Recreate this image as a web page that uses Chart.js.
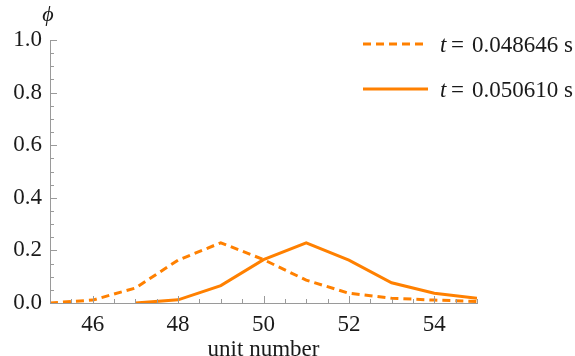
<!DOCTYPE html>
<html>
<head>
<meta charset="utf-8">
<script src="https://cdn.jsdelivr.net/npm/chart.js@4"></script>
<style>
  html, body { margin: 0; padding: 0; background: #fff; }
  #wrap { width: 575px; height: 356px; }
</style>
</head>
<body>
<div id="wrap"><canvas id="chart" width="575" height="356"></canvas></div>
<script>
// data
const units = [45, 46, 47, 48, 49, 50, 51, 52, 53, 54, 55];
const phiEarly = [0.0, 0.011, 0.057, 0.163, 0.229, 0.165, 0.087, 0.037, 0.018, 0.011, 0.006];
const phiLate = [null, null, 0.0, 0.012, 0.066, 0.165, 0.229, 0.163, 0.077, 0.037, 0.018];
const seriesLabels = ["0.048646 s", "0.050610 s"];
const xTicks = [46, 48, 50, 52, 54];
const yTicks = [0, 0.2, 0.4, 0.6, 0.8, 1.0];

const orange = "#ff8000";
const axisGray = "#9a9a9a";
const textColor = "#1a1a1a";
const serif = "'Liberation Serif', 'DejaVu Serif', serif";

// inward ticks, phi label and legend
const decorPlugin = {
  id: "decor",
  afterDraw: (chart) => {
    const ctx = chart.ctx;
    const xs = chart.scales.x;
    const ys = chart.scales.y;
    const area = chart.chartArea;

    ctx.save();
    ctx.strokeStyle = axisGray;
    ctx.lineWidth = 1;
    ctx.beginPath();
    for (let v = 45; v <= 55.001; v += 0.5) {
      const px = Math.round(xs.getPixelForValue(v)) + 0.5;
      const len = Math.abs(v % 2) < 0.001 ? 7 : 4;
      ctx.moveTo(px, area.bottom);
      ctx.lineTo(px, area.bottom - len);
    }
    for (let v = 0; v <= 1.0001; v += 0.05) {
      const py = Math.round(ys.getPixelForValue(v)) + 0.5;
      const major = Math.abs(v / 0.2 - Math.round(v / 0.2)) < 0.001;
      ctx.moveTo(area.left, py);
      ctx.lineTo(area.left + (major ? 7 : 4), py);
    }
    ctx.stroke();

    // phi axis label
    ctx.fillStyle = textColor;
    ctx.font = "italic 22px " + serif;
    ctx.textAlign = "center";
    ctx.textBaseline = "middle";
    ctx.fillText("\u03d5", 48, 15);

    // legend
    chart.data.datasets.forEach((ds, i) => {
      const y = 44 + i * 45;
      ctx.strokeStyle = ds.borderColor;
      ctx.lineWidth = 3;
      ctx.setLineDash(ds.borderDash || []);
      ctx.beginPath();
      ctx.moveTo(363, y);
      ctx.lineTo(ds.borderDash ? 424 : 428, y);
      ctx.stroke();
      ctx.setLineDash([]);

      ctx.fillStyle = textColor;
      ctx.textAlign = "left";
      ctx.font = "italic 23px " + serif;
      ctx.fillText("t", 440, y + 2);
      ctx.font = "23px " + serif;
      ctx.fillText("=", 451, y + 2);
      ctx.fillText(seriesLabels[i], 472, y + 2);
    });
    ctx.restore();
  },
};

new Chart(document.getElementById("chart"), {
  type: "line",
  data: {
    datasets: [
      {
        label: seriesLabels[0],
        data: units.map((u, i) => ({ x: u, y: phiEarly[i] })),
        borderColor: orange,
        borderWidth: 3,
        borderDash: [8, 5],
        pointRadius: 0,
        tension: 0,
      },
      {
        label: seriesLabels[1],
        data: units.map((u, i) => ({ x: u, y: phiLate[i] })),
        borderColor: orange,
        borderWidth: 3,
        pointRadius: 0,
        tension: 0,
      },
    ],
  },
  options: {
    responsive: false,
    animation: false,
    layout: { padding: { left: 0, right: 98, top: 40, bottom: 0 } },
    plugins: {
      legend: { display: false },
      tooltip: { enabled: false },
    },
    scales: {
      x: {
        type: "linear",
        min: 45,
        max: 55,
        grid: { display: false },
        border: { display: true, color: axisGray, width: 1 },
        afterBuildTicks: (scale) => {
          scale.ticks = xTicks.map((v) => ({ value: v }));
        },
        afterFit: (scale) => {
          scale.height = 53;
        },
        ticks: {
          color: textColor,
          font: { family: serif, size: 23 },
          padding: 0,
          maxRotation: 0,
        },
        title: {
          display: true,
          text: "unit number",
          color: textColor,
          font: { family: serif, size: 23, lineHeight: 1 },
          padding: { top: 0, bottom: -5 },
        },
      },
      y: {
        min: 0,
        max: 1,
        grid: { display: false },
        border: { display: true, color: axisGray, width: 1 },
        afterBuildTicks: (scale) => {
          scale.ticks = yTicks.map((v) => ({ value: v }));
        },
        afterFit: (scale) => {
          scale.width = 50;
        },
        ticks: {
          color: textColor,
          font: { family: serif, size: 23 },
          padding: 0,
          callback: (v) => Number(v).toFixed(1),
        },
      },
    },
  },
  plugins: [decorPlugin],
});
</script>
</body>
</html>
